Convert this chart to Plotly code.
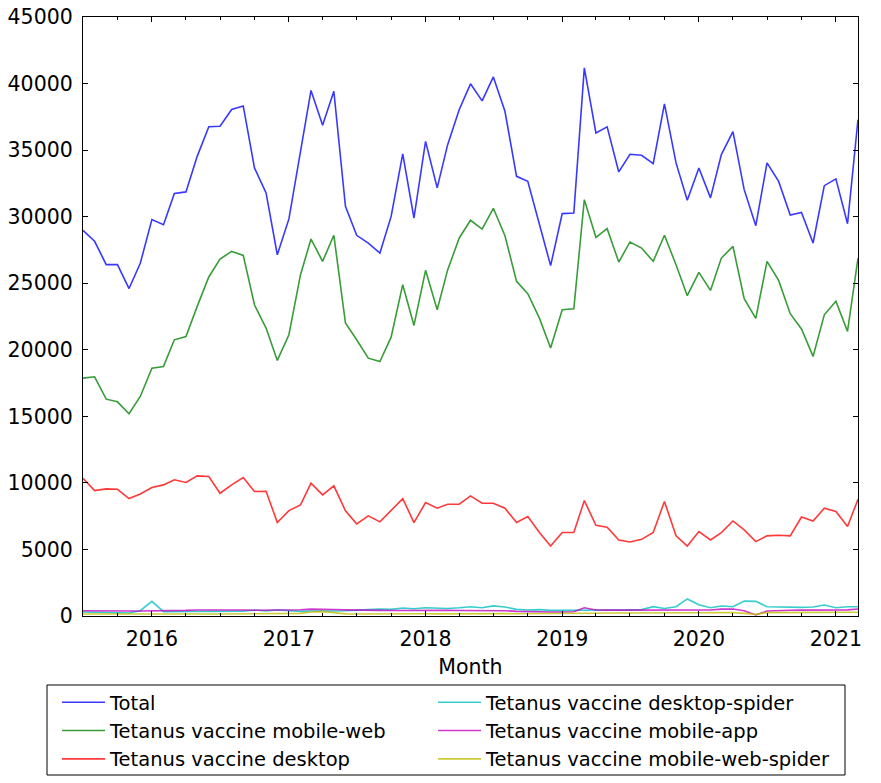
import plotly.graph_objects as go
import pandas as pd

months = pd.date_range("2015-07-01", "2021-03-01", freq="MS").strftime("%Y-%m-%d").tolist()

total = [28970, 28150, 26400, 26400, 24600, 26500, 29780, 29400, 31750, 31860,
         34530, 36750, 36790, 38050, 38320, 33660, 31780, 27140, 29830, 34800,
         39480, 36870, 39420, 30780, 28600, 28020, 27270, 30020, 34720, 29900,
         35660, 32160, 35410, 38050, 39980, 38700, 40500, 37920, 33030, 32650,
         29450, 26320, 30230, 30280, 41180, 36290, 36750, 33360, 34690, 34610,
         33990, 38470, 34040, 31230, 33660, 31410, 34660, 36390, 32030, 29320,
         34040, 32650, 30130, 30320, 28020, 32330, 32840, 29470, 37290]

mobile_web = [17870, 17970, 16290, 16090, 15190, 16490, 18620, 18750, 20750, 21000,
              23260, 25470, 26820, 27390, 27090, 23380, 21630, 19200, 21130, 25640,
              28320, 26640, 28600, 22010, 20750, 19370, 19120, 20950, 24890, 21830,
              25970, 23010, 26000, 28400, 29730, 29070, 30630, 28570, 25140, 24210,
              22380, 20130, 23010, 23080, 31280, 28450, 29100, 26590, 28100, 27640,
              26640, 28600, 26390, 24060, 25820, 24460, 26890, 27770, 23840, 22360,
              26640, 25210, 22710, 21560, 19500, 22630, 23640, 21380, 26890]

desktop = [10350, 9420, 9550, 9520, 8820, 9170, 9650, 9850, 10230, 10030,
           10530, 10480, 9220, 9850, 10400, 9350, 9370, 7020, 7920, 8350,
           9980, 9100, 9780, 7900, 6920, 7520, 7070, 7970, 8820, 7020,
           8520, 8100, 8400, 8400, 9020, 8470, 8470, 8100, 7020, 7470,
           6270, 5260, 6270, 6270, 8670, 6820, 6670, 5710, 5560, 5760,
           6270, 8600, 6020, 5260, 6340, 5710, 6270, 7140, 6470, 5590,
           6020, 6070, 6020, 7440, 7140, 8100, 7850, 6720, 8770]

desktop_spider = [300, 280, 250, 280, 230, 400, 1100, 330, 320, 330,
                  340, 350, 340, 330, 360, 450, 380, 450, 380, 350,
                  380, 360, 380, 400, 420, 480, 520, 500, 600, 550,
                  620, 600, 560, 620, 700, 620, 760, 680, 500, 450,
                  480, 420, 420, 400, 400, 420, 450, 450, 460, 480,
                  700, 560, 700, 1280, 850, 620, 750, 700, 1120, 1100,
                  700, 680, 680, 650, 680, 820, 620, 700, 700]

mobile_app = [400, 380, 390, 380, 370, 380, 380, 390, 400, 420,
              450, 460, 450, 460, 450, 430, 440, 420, 430, 470,
              520, 480, 490, 460, 430, 420, 420, 410, 420, 410,
              420, 430, 420, 410, 420, 420, 400, 400, 350, 320,
              300, 300, 300, 320, 620, 450, 440, 440, 440, 440,
              450, 430, 440, 440, 430, 450, 520, 520, 400, 80,
              380, 420, 430, 440, 450, 460, 420, 460, 530]

mobile_web_spider = [150, 140, 150, 150, 140, 150, 150, 160, 150, 150,
                     160, 150, 150, 160, 150, 150, 160, 150, 160, 200,
                     300, 330, 250, 160, 150, 160, 150, 160, 170, 160,
                     170, 160, 170, 170, 180, 170, 170, 180, 170, 170,
                     180, 200, 200, 210, 210, 220, 220, 220, 230, 230,
                     240, 240, 240, 240, 250, 250, 250, 260, 200, 130,
                     250, 260, 260, 270, 270, 270, 280, 270, 280]

series = [
    ("Total", total, "rgba(0,0,255,0.78)", "legend"),
    ("Tetanus vaccine mobile-web", mobile_web, "rgba(0,128,0,0.78)", "legend"),
    ("Tetanus vaccine desktop", desktop, "rgba(255,0,0,0.78)", "legend"),
    ("Tetanus vaccine desktop-spider", desktop_spider, "rgba(0,191,191,0.78)", "legend2"),
    ("Tetanus vaccine mobile-app", mobile_app, "rgba(191,0,191,0.78)", "legend2"),
    ("Tetanus vaccine mobile-web-spider", mobile_web_spider, "rgba(191,191,0,0.78)", "legend2"),
]

fig = go.Figure()
for i, (name, vals, color, lg) in enumerate(series):
    fig.add_trace(go.Scatter(x=months, y=vals, mode="lines", name=name,
                             line=dict(color=color, width=1.6),
                             legend=lg, legendgroup=f"g{i}"))

font = "DejaVu Sans"
W, H = 881, 783
L, R, T, B = 83, 23, 17, 167
pw, ph = W - L - R, H - T - B

def px_x(px):
    return (px - L) / pw

def px_y(py):
    return (H - B - py) / ph

leg_common = dict(orientation="v", yanchor="top", xanchor="left",
                  xref="container", yref="container",
                  borderwidth=0, bgcolor="rgba(0,0,0,0)",
                  font=dict(family=font, size=19.5, color="black"),
                  tracegroupgap=0, itemwidth=43)

fig.update_layout(
    width=W, height=H,
    margin=dict(l=L, r=R, t=T, b=B, autoexpand=False),
    paper_bgcolor="white", plot_bgcolor="white",
    font=dict(family=font, size=20.5, color="black"),
    showlegend=True,
    legend=dict(x=57 / W, y=1 - 683 / H, **leg_common),
    legend2=dict(x=433 / W, y=1 - 683 / H, **leg_common),
    shapes=[dict(type="rect", xref="paper", yref="paper",
                 x0=px_x(47), x1=px_x(845), y0=px_y(775), y1=px_y(685),
                 line=dict(color="black", width=1), fillcolor="rgba(0,0,0,0)",
                 layer="above")],
)
fig.update_xaxes(
    type="date", range=["2015-07-01", "2021-03-01"],
    tick0="2016-01-01", dtick="M12", tickformat="%Y",
    ticks="inside", ticklen=5, tickcolor="black",
    minor=dict(ticks="inside", dtick="M3", ticklen=3, tickcolor="black"),
    showline=True, linecolor="black", linewidth=1.2, mirror="ticks",
    showgrid=False, zeroline=False, automargin=False,
    ticklabelstandoff=4,
    title=dict(text="Month", font=dict(size=20.5), standoff=9),
    tickfont=dict(size=20.5),
)
fig.update_yaxes(
    range=[0, 45000], dtick=5000, tick0=0,
    ticks="inside", ticklen=5, tickcolor="black",
    showline=True, linecolor="black", linewidth=1.2, mirror="ticks",
    showgrid=False, zeroline=False, tickformat="d", automargin=False,
    ticklabelstandoff=5,
    tickfont=dict(size=20.5),
)
fig.write_html("out.html", config={"displayModeBar": False},
               post_script="document.body.style.margin='0';")
